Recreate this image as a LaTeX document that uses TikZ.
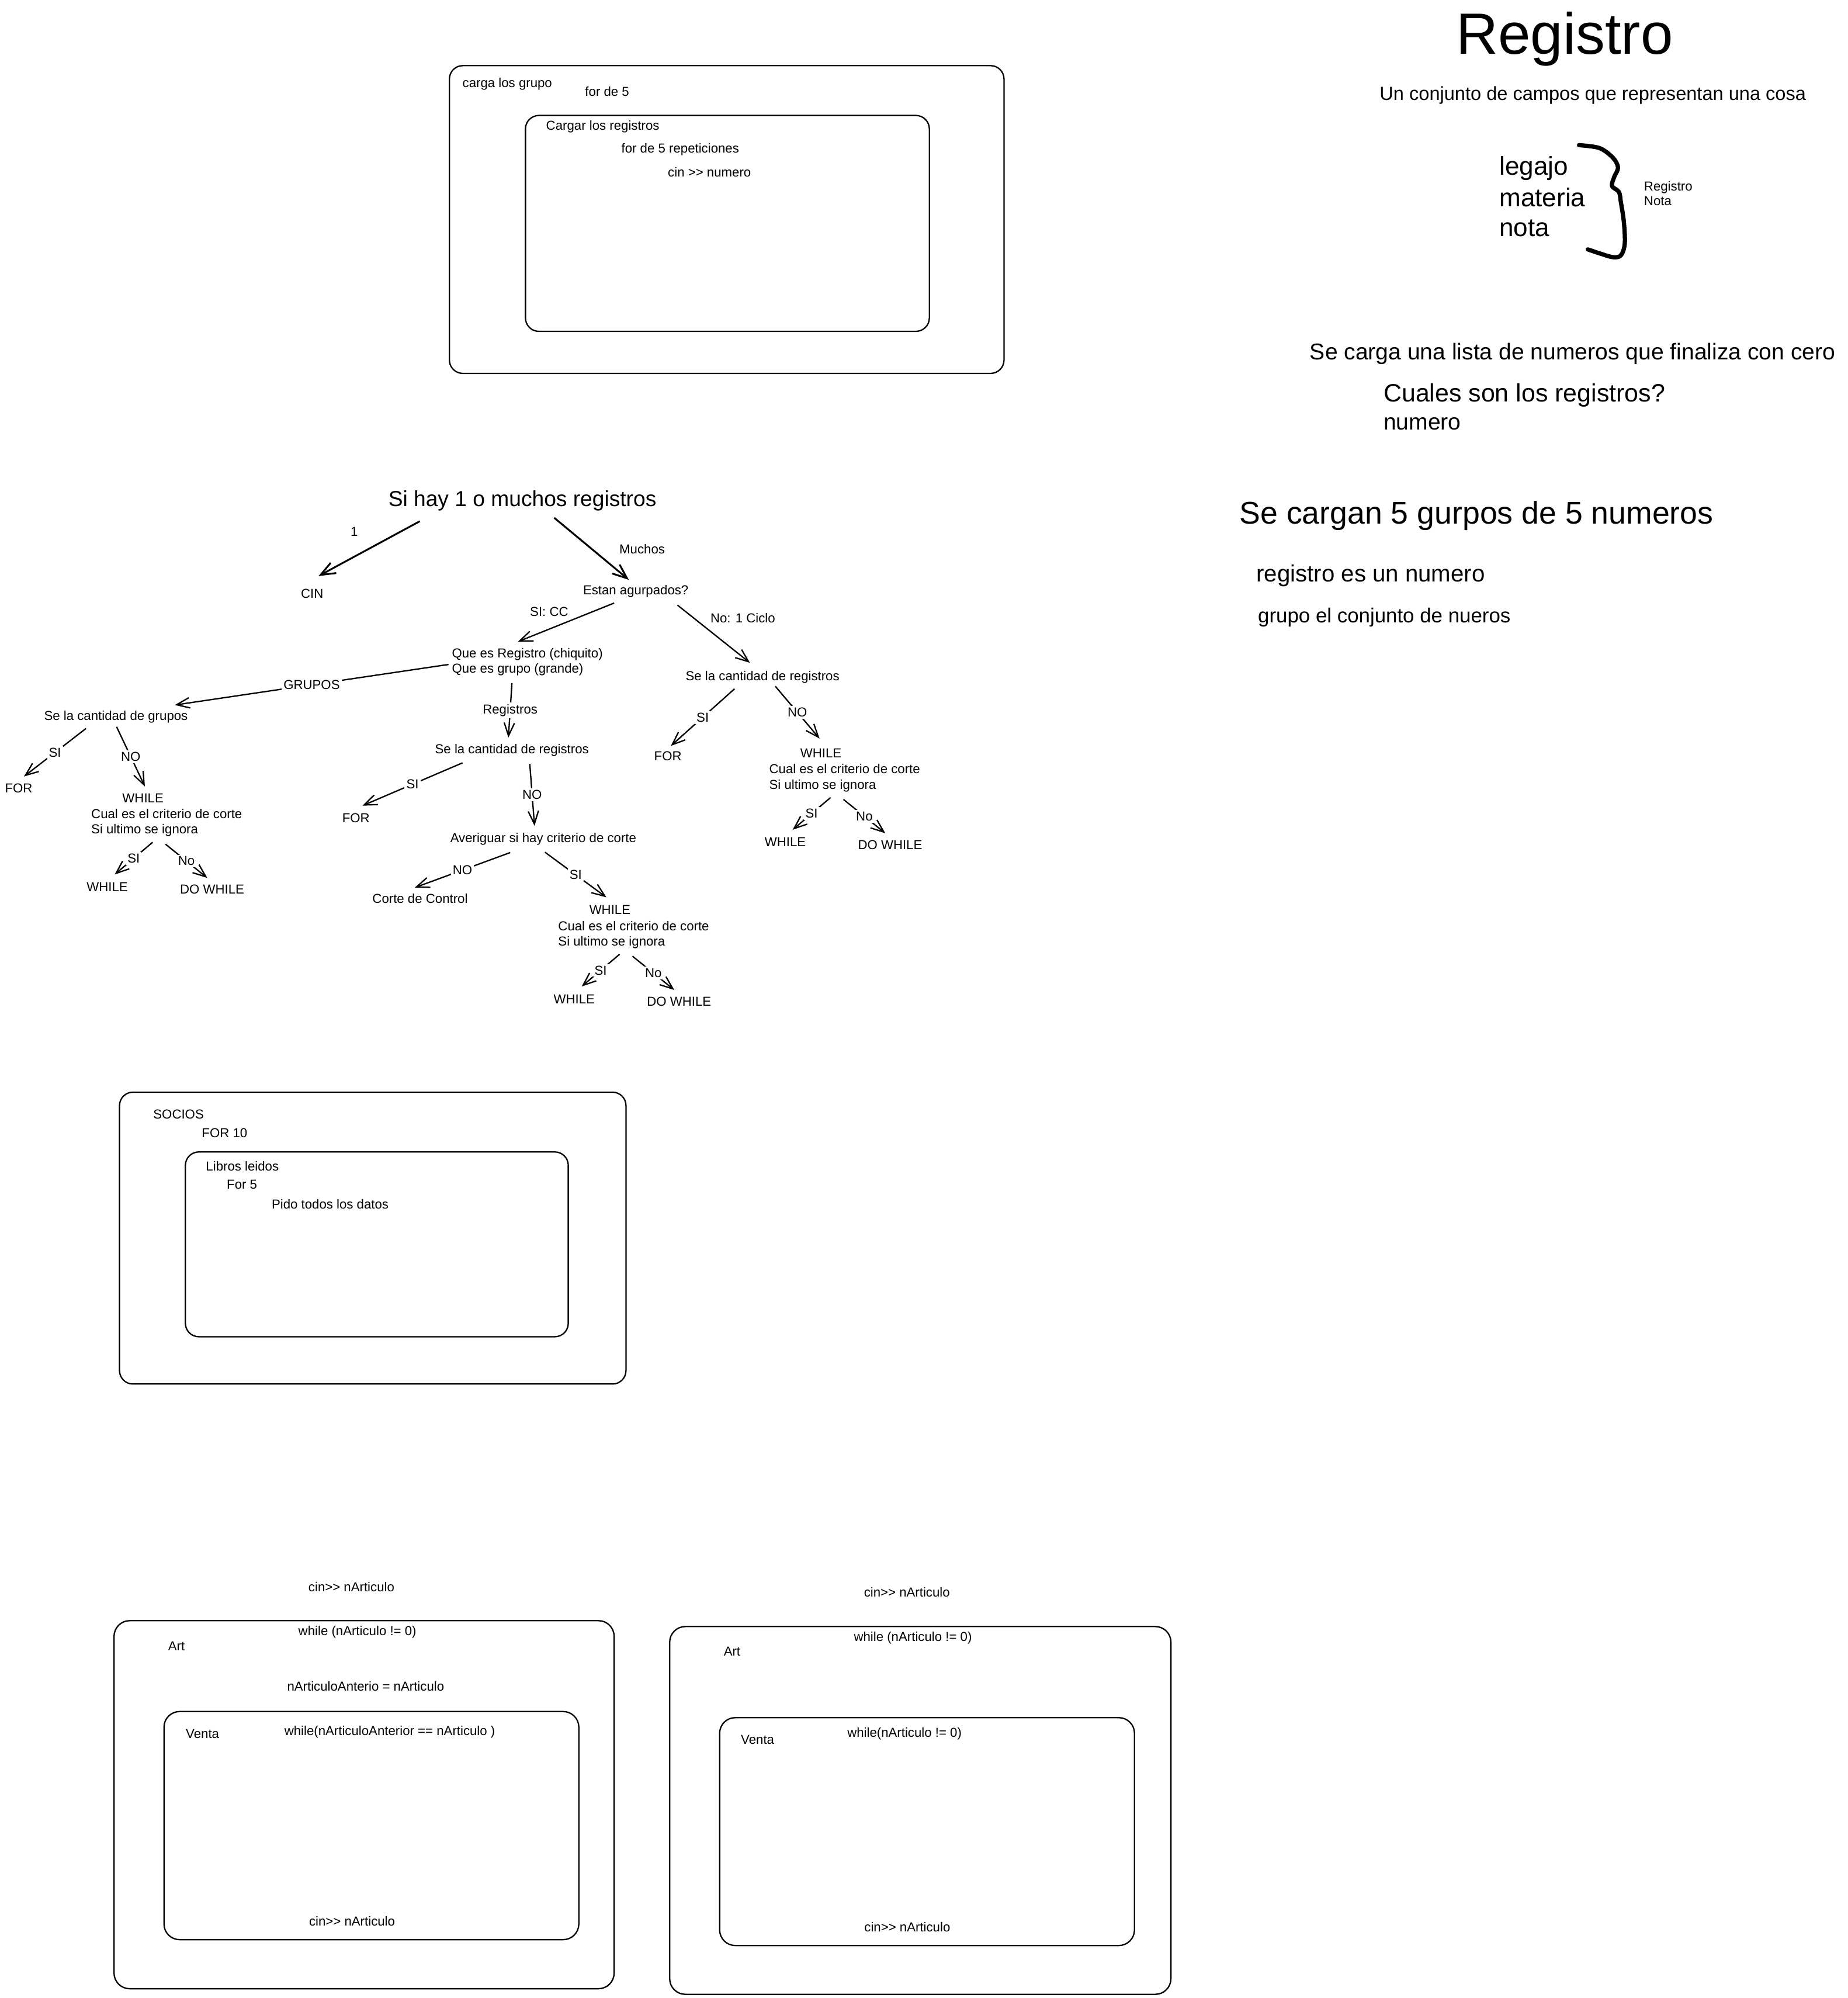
\documentclass[tikz,border=0pt]{standalone}
\usepackage{fontspec}
\setmainfont{Liberation Sans}[Ligatures=TeXOff]
\usetikzlibrary{arrows.meta}

\tikzset{
  txt/.style={inner sep=0.5pt, font=\fontsize{5.8}{6.9}\selectfont},
  txtl/.style={txt, anchor=west, align=left},
  lab/.style={txt, fill=white, inner sep=0.8pt},
  note/.style={anchor=base west, inner sep=0pt},
  cbox/.style={draw, line width=0.6pt, rounded corners=6pt},
  arr/.style={line width=0.6pt, -{Straight Barb[length=5.8pt,width=4.6pt]}},
  bigarr/.style={line width=0.8pt, -{Straight Barb[length=6.5pt,width=5.2pt]}},
}

\begin{document}
\begin{tikzpicture}[x=0.02cm, y=-0.02cm]
\useasboundingbox (0,0) rectangle (1450,1567.8);

% carga los grupos
\draw[cbox] (352.7,51.5) rectangle (788,293);
\draw[cbox] (412.4,90.6) rectangle (729.4,260);
\node[txtl] (grupo) at (361.8,66) {carga los grupo};
\node[txtl] (for5) at (458,71.6) {for de 5};
\node[txtl] (cargar) at (427.4,99.5) {Cargar los registros};
\node[txtl] (rep) at (486.5,117.5) {for de 5 repeticiones};
\node[txtl] (cinnum) at (523,135.2) {cin >> numero};

% Registro
\node[font=\fontsize{26}{30}\selectfont, anchor=base] (titulo) at (1228,42.3) {Registro};
\node[note, font=\fontsize{8.5}{10}\selectfont] (def) at (1082.5,78.5) {Un conjunto de campos que representan una cosa};
\foreach \w/\y in {legajo/137.2, materia/161.9, nota/185.7}
  \node[note, font=\fontsize{11.5}{13.8}\selectfont] (\w) at (1176.5,\y) {\w};
\draw[line width=1.9pt, line cap=round, line join=round] plot[smooth, tension=0.55] coordinates {(1239.3,113.9) (1255.4,116.2) (1266,123.9) (1269.9,131.5) (1266.8,139.1) (1265.2,146) (1270.6,150.6) (1272.2,159) (1274.5,174.3) (1275.2,191.1) (1272.2,200.3) (1266,201.8) (1255.4,198.8) (1246.2,195.7)};
\node[txt, note] (regsm) at (1290,149.8) {Registro};
\node[txt, note] (notasm) at (1290,161.2) {Nota};

\node[note, font=\fontsize{10.2}{12}\selectfont] (lista) at (1027.7,282.4) {Se carga una lista de numeros que finaliza con cero};
\node[note, font=\fontsize{11.2}{13}\selectfont] (cuales) at (1085.6,315.1) {Cuales son los registros?};
\node[note, font=\fontsize{10.2}{12}\selectfont] (numero) at (1085.6,337.3) {numero};
\node[note, font=\fontsize{14}{16}\selectfont] (cargan) at (972.5,411.3) {Se cargan 5 gurpos de 5 numeros};
\node[note, font=\fontsize{10.5}{12}\selectfont] (regnum) at (985.7,456.4) {registro es un numero};
\node[note, font=\fontsize{9.1}{11}\selectfont] (grupnum) at (987,488.5) {grupo el conjunto de nueros};

% arbol
\node[inner sep=0.5pt, font=\fontsize{9.7}{11}\selectfont] (root) at (410,393) {Si hay 1 o muchos registros};
\node[txt] (uno) at (278,417) {1};
\node[txt] (cin) at (245,466) {CIN};
\node[txt] (muchos) at (504,431) {Muchos};
\node[txt] (agr) at (499,464) {Estan agurpados?};
\node[txt] (sicc) at (431,480) {SI: CC};
\node[txt] (nociclo) at (583,485) {No: 1 Ciclo};
\node[txtl] (quees) at (353.5,519.5) {Que es Registro (chiquito)\\Que es grupo (grande)};
\node[txt] (cgr) at (91,562.5) {Se la cantidad de grupos};
\node[txt] (for1) at (14.7,618.5) {FOR};
\node[txt] (creg) at (401.8,588.7) {Se la cantidad de registros};
\node[txt] (for2) at (279.4,642) {FOR};
\node[txt] (aver) at (426.4,658.3) {Averiguar si hay criterio de corte};
\node[txt] (cc) at (329.7,705) {Corte de Control};
\node[txt] (creg2) at (598.5,531.4) {Se la cantidad de registros};
\node[txt] (for3) at (524.2,593.3) {FOR};

\foreach \x/\y/\n in {70.4/645.6/1, 436.9/733.5/2, 602.5/610.5/3}{
  \node[txt] (wh\n) at (\x+41.8,\y-19.5) {WHILE};
  \node[txtl] (crit\n) at (\x,\y) {Cual es el criterio de corte\\Si ultimo se ignora};
  \node[txt] (ws\n) at (\x+13.8,\y+50.4) {WHILE};
  \node[txt] (dw\n) at (\x+96.1,\y+52.3) {DO WHILE};
  \draw[arr] ([shift={(49.4,15.3)}]crit\n.west) -- node[lab]{SI} ([shift={(5.8,-9.8)}]ws\n.center);
  \draw[arr] ([shift={(59.5,16.8)}]crit\n.west) -- node[lab]{No} ([shift={(-3.8,-9)}]dw\n.center);
}

\draw[bigarr] ([shift={(-80.5,16)}]root.center) -- ([shift={(5,-14)}]cin.center);
\draw[bigarr] ([shift={(25,13.3)}]root.center) -- ([shift={(-5.4,-9)}]agr.center);
\draw[arr] ([shift={(-17,9.2)}]agr.center) -- ([shift={(53,-16)}]quees.west);
\draw[arr] ([shift={(32.7,10.8)}]agr.center) -- ([shift={(-9.9,-11.3)}]creg2.center);
\draw[arr] ([shift={(-1.5,1.9)}]quees.west) -- node[lab]{GRUPOS} ([shift={(46.2,-9.3)}]cgr.center);
\draw[arr] ([shift={(48.3,16.5)}]quees.west) -- node[lab]{Registros} ([shift={(-2.8,-9.9)}]creg.center);
\draw[arr] ([shift={(-23.5,9.1)}]cgr.center) -- node[lab]{SI} ([shift={(4.1,-9.2)}]for1.center);
\draw[arr] ([shift={(0.5,7.8)}]cgr.center) -- node[lab]{NO} ([shift={(1.5,-9)}]wh1.center);
\draw[arr] ([shift={(-38.8,9.9)}]creg.center) -- node[lab]{SI} ([shift={(5.1,-9.8)}]for2.center);
\draw[arr] ([shift={(14,10.7)}]creg.center) -- node[lab]{NO} ([shift={(-6.9,-10.3)}]aver.center);
\draw[arr] ([shift={(-26,10.7)}]aver.center) -- node[lab]{NO} ([shift={(-4.2,-8.5)}]cc.center);
\draw[arr] ([shift={(1.3,10.4)}]aver.center) -- node[lab]{SI} ([shift={(-2.8,-9.9)}]wh2.center);
\draw[arr] ([shift={(-22,9.1)}]creg2.center) -- node[lab]{SI} ([shift={(2.3,-8)}]for3.center);
\draw[arr] ([shift={(10,7.1)}]creg2.center) -- node[lab]{NO} ([shift={(-1.1,-11.5)}]wh3.center);

% socios
\draw[cbox] (93.8,857) rectangle (491.3,1086);
\draw[cbox] (145.5,903.9) rectangle (446,1048.9);
\node[txtl] (socios) at (119.1,874.5) {SOCIOS};
\node[txtl] (for10) at (157.2,889) {FOR 10};
\node[txtl] (libros) at (160.4,914.9) {Libros leidos};
\node[txtl] (for5b) at (176.8,929.5) {For 5};
\node[txtl] (pido) at (212,945) {Pido todos los datos};

% articulos
\node[txt] (cinA) at (275.8,1245) {cin>> nArticulo};
\draw[cbox, rounded corners=7pt] (89.5,1271.7) rectangle (482,1560.5);
\draw[cbox, rounded corners=7pt] (128.7,1343) rectangle (454.3,1522);
\node[txt] (whileA) at (280.5,1280.8) {while (nArticulo != 0)};
\node[txtl] (artA) at (130.8,1291.9) {Art};
\node[txt] (antA) at (287,1323.3) {nArticuloAnterio = nArticulo};
\node[txtl] (ventaA) at (144.7,1360.6) {Venta};
\node[txt] (whileA2) at (305.9,1359) {while(nArticuloAnterior == nArticulo )};
\node[txt] (cinA2) at (276.3,1507.6) {cin>> nArticulo};

\node[txt] (cinB) at (711.8,1249.5) {cin>> nArticulo};
\draw[cbox, rounded corners=7pt] (525.6,1276.3) rectangle (919,1564.9);
\draw[cbox, rounded corners=7pt] (564.8,1347.8) rectangle (890.4,1526.6);
\node[txt] (whileB) at (716.5,1285.3) {while (nArticulo != 0)};
\node[txtl] (artB) at (566.8,1296) {Art};
\node[txtl] (ventaB) at (580.3,1364.9) {Venta};
\node[txt] (whileB2) at (709.9,1360.2) {while(nArticulo != 0)};
\node[txt] (cinB2) at (712.1,1512) {cin>> nArticulo};
\end{tikzpicture}
\end{document}
